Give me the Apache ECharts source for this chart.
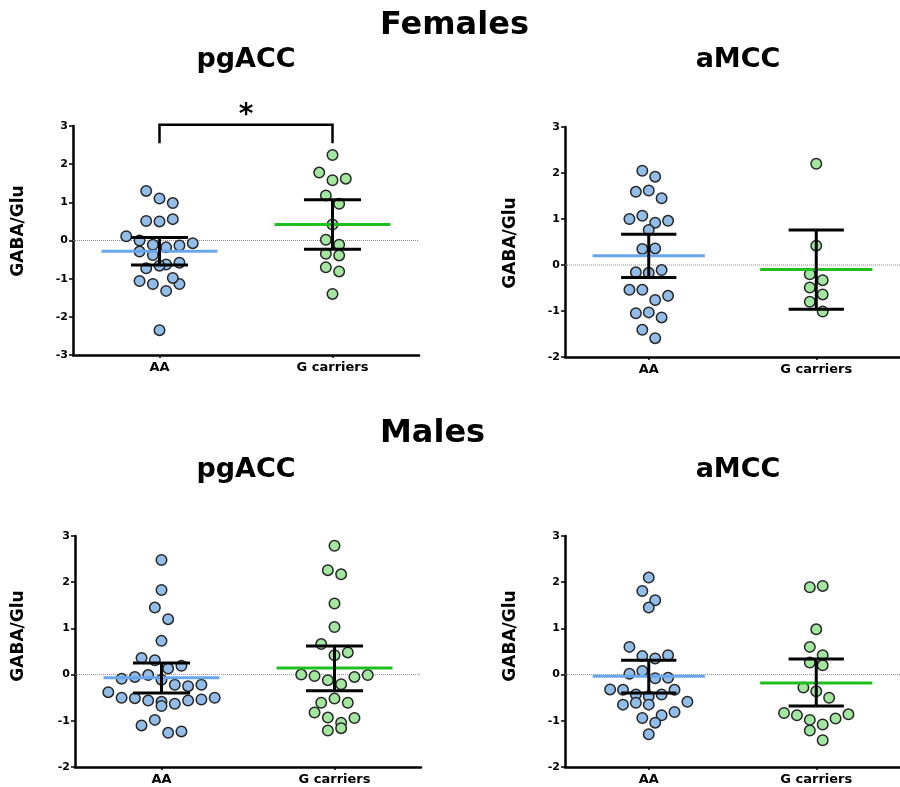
<!DOCTYPE html>
<html>
<head>
<meta charset="utf-8">
<title>GABA/Glu by genotype</title>
<script src="https://cdn.jsdelivr.net/npm/echarts@6/dist/echarts.min.js"></script>
<style>
  html, body { margin: 0; padding: 0; background: #fff; }
  #chart { width: 900px; height: 787px; }
</style>
</head>
<body>
<div id="chart"></div>
<script>
// Genotype groups on the x axis
const categories = ['AA', 'G carriers'];

// Females, pgACC
const femPgAA = [1.30, 1.10, 0.98, 0.51, 0.50, 0.56, 0.11, 0.00, -0.11, -0.18, -0.29, -0.13, -0.07,
  -0.38, -0.63, -0.73, -0.66, -0.58, -1.06, -1.14, -1.32, -1.14, -0.98, -2.35];
const femPgG = [2.24, 1.78, 1.58, 1.62, 1.18, 0.96, 0.42, 0.02, -0.11, -0.35, -0.39, -0.70, -0.81, -1.40];
const femPgMean = [-0.28, 0.42];
const femPgLow = [-0.64, -0.23];
const femPgHigh = [0.08, 1.07];

// Females, aMCC
const femMcAA = [2.05, 1.92, 1.59, 1.62, 1.45, 1.00, 1.07, 0.92, 0.96, 0.76, 0.35, 0.36, -0.16, -0.17,
  -0.11, -0.54, -0.54, -0.76, -0.67, -1.05, -1.03, -1.14, -1.41, -1.59];
const femMcG = [2.20, 0.42, -0.20, -0.33, -0.49, -0.64, -0.80, -1.01];
const femMcMean = [0.20, -0.10];
const femMcLow = [-0.27, -0.96];
const femMcHigh = [0.67, 0.76];

// Males, pgACC
const malPgAA = [2.48, 1.83, 1.45, 1.20, 0.73, 0.36, 0.31, 0.13, 0.19, -0.09, -0.05, -0.01, -0.11,
  -0.22, -0.25, -0.22, -0.38, -0.50, -0.51, -0.56, -0.59, -0.68, -0.63, -0.56, -0.54, -0.50,
  -1.10, -0.98, -1.26, -1.23];
const malPgG = [2.79, 2.26, 2.17, 1.54, 1.03, 0.66, 0.42, 0.48, 0.00, -0.03, -0.12, -0.21, -0.05,
  -0.01, -0.61, -0.52, -0.61, -0.82, -0.93, -1.04, -0.94, -1.21, -1.16];
const malPgMean = [-0.07, 0.145];
const malPgLow = [-0.40, -0.35];
const malPgHigh = [0.25, 0.62];

// Males, aMCC
const malMcAA = [2.10, 1.81, 1.61, 1.45, 0.60, 0.40, 0.35, 0.42, 0.02, 0.08, -0.08, -0.07, -0.32,
  -0.33, -0.43, -0.47, -0.43, -0.33, -0.65, -0.61, -0.59, -0.65, -0.88, -0.81, -0.94, -1.04, -1.29];
const malMcG = [1.89, 1.92, 0.98, 0.60, 0.42, 0.26, 0.20, -0.28, -0.36, -0.50, -0.83, -0.88, -0.98,
  -1.08, -1.21, -0.95, -0.86, -1.42];
const malMcMean = [-0.036, -0.18];
const malMcLow = [-0.40, -0.68];
const malMcHigh = [0.31, 0.34];

// Axis tick labels
const yTickLabels = ['-3', '-2', '-1', '0', '1', '2', '3'];

const FONT = 'DejaVu Sans';
const BLUE_DOT = '#92bde9';
const GREEN_DOT = '#a2e6a0';
const BLUE_MEAN = '#6aa6ec';
const GREEN_MEAN = '#1fbf1f';

// Panel layout
const panels = [
  { rect: { left: 73, top: 126, width: 346, height: 229 }, yMin: -3, yMax: 3,
    aa: femPgAA, g: femPgG, mean: femPgMean, low: femPgLow, high: femPgHigh,
    nameX: 19, nameY: 231, bracket: true },
  { rect: { left: 565, top: 127, width: 346, height: 230 }, yMin: -2, yMax: 3,
    aa: femMcAA, g: femMcG, mean: femMcMean, low: femMcLow, high: femMcHigh,
    nameX: 511, nameY: 243 },
  { rect: { left: 75, top: 536, width: 346, height: 231 }, yMin: -2, yMax: 3,
    aa: malPgAA, g: malPgG, mean: malPgMean, low: malPgLow, high: malPgHigh,
    nameX: 19, nameY: 636 },
  { rect: { left: 565, top: 536, width: 346, height: 231 }, yMin: -2, yMax: 3,
    aa: malMcAA, g: malMcG, mean: malMcMean, low: malMcLow, high: malMcHigh,
    nameX: 511, nameY: 636 }
];

// Scatter-dot layout: values are grouped, from the top down, into rows no
// taller than one dot spacing; each row is spread symmetrically about the
// column centre with one dot spacing between neighbours.
function rowOffsets(vals, pxX, pxY, d) {
  const order = vals.map((v, i) => i).sort((a, b) => vals[b] - vals[a]);
  const rowSpan = d / pxY;
  const rows = [];
  let cur = null;
  for (const i of order) {
    if (!cur || cur.start - vals[i] >= rowSpan) {
      cur = { start: vals[i], members: [] };
      rows.push(cur);
    }
    cur.members.push(i);
  }
  const off = new Array(vals.length);
  rows.forEach(r => {
    const m = r.members.slice().sort((a, b) => a - b);
    const n = m.length;
    m.forEach((idx, j) => { off[idx] = (j - (n - 1) / 2) * d / pxX; });
  });
  return off;
}

const grids = [], xAxes = [], yAxes = [], series = [], graphics = [];

panels.forEach((p, i) => {
  grids.push(Object.assign({ containLabel: false }, p.rect));
  const pxX = p.rect.width / 2;
  const pxY = p.rect.height / (p.yMax - p.yMin);

  // visible category axis
  xAxes.push({
    type: 'category', gridIndex: i, data: categories,
    axisLine: { show: true, onZero: false, lineStyle: { color: '#000', width: 2.5 } },
    axisTick: { show: true, alignWithLabel: true, length: 3, lineStyle: { color: '#000', width: 1.5 } },
    axisLabel: { color: '#000', fontFamily: FONT, fontWeight: 'bold', fontSize: 13, margin: 6 },
    splitLine: { show: false }
  });
  // hidden numeric axis carrying the dot positions
  xAxes.push({ type: 'value', gridIndex: i, min: -0.5, max: 1.5, show: false,
    axisLine: { onZero: false } });

  yAxes.push({
    type: 'value', gridIndex: i, min: p.yMin, max: p.yMax, interval: 1,
    axisLine: { show: true, onZero: false, lineStyle: { color: '#000', width: 2.5 } },
    axisTick: { show: true, length: 4, lineStyle: { color: '#000', width: 1.5 } },
    axisLabel: {
      color: '#000', fontFamily: FONT, fontWeight: 'bold', fontSize: 11, margin: 5,
      formatter: v => yTickLabels[Math.round(v) + 3]
    },
    splitLine: { show: false }
  });

  const xi = 2 * i + 1;

  // dotted zero reference line
  series.push({
    type: 'line', xAxisIndex: xi, yAxisIndex: i, data: [[-0.5, 0], [1.5, 0]],
    symbol: 'none', silent: true, z: 1,
    lineStyle: { color: '#8c8c8c', width: 1, type: 'dotted' }
  });

  [p.aa, p.g].forEach((vals, c) => {
    const off = rowOffsets(vals, pxX, pxY, 13.3);
    series.push({
      type: 'scatter', xAxisIndex: xi, yAxisIndex: i, z: 2,
      symbol: 'circle', symbolSize: 10.5,
      itemStyle: { color: c === 0 ? BLUE_DOT : GREEN_DOT, borderColor: '#262626', borderWidth: 1.5, opacity: 1 },
      data: vals.map((v, j) => [c + off[j], v])
    });
  });

  // mean line with 95% CI error bars
  series.push({
    type: 'custom', xAxisIndex: xi, yAxisIndex: i, z: 3, silent: true,
    data: [0, 1].map(c => [c, p.mean[c], p.low[c], p.high[c]]),
    renderItem: (params, api) => {
      const x = api.value(0), m = api.value(1), lo = api.value(2), hi = api.value(3);
      const mL = api.coord([x - 0.335, m]), mR = api.coord([x + 0.335, m]);
      const top = api.coord([x, hi]), bot = api.coord([x, lo]);
      const cL = api.coord([x - 0.165, hi]), cR = api.coord([x + 0.165, hi]);
      const bL = api.coord([x - 0.165, lo]), bR = api.coord([x + 0.165, lo]);
      const black = { stroke: '#000', lineWidth: 3, fill: null };
      return {
        type: 'group',
        children: [
          { type: 'line', shape: { x1: mL[0], y1: mL[1], x2: mR[0], y2: mR[1] },
            style: { stroke: x === 0 ? BLUE_MEAN : GREEN_MEAN, lineWidth: 3 } },
          { type: 'line', shape: { x1: top[0], y1: top[1], x2: bot[0], y2: bot[1] }, style: black },
          { type: 'line', shape: { x1: cL[0], y1: cL[1], x2: cR[0], y2: cR[1] }, style: black },
          { type: 'line', shape: { x1: bL[0], y1: bL[1], x2: bR[0], y2: bR[1] }, style: black }
        ]
      };
    }
  });

  // significance bracket between the two groups
  if (p.bracket) {
    series.push({
      type: 'custom', xAxisIndex: xi, yAxisIndex: i, z: 3, silent: true, clip: false,
      data: [[0, 1, 3.03, 2.55]],
      renderItem: (params, api) => {
        const a = api.value(0), b = api.value(1), top = api.value(2), foot = api.value(3);
        const p1 = api.coord([a, foot]), p2 = api.coord([a, top]);
        const p3 = api.coord([b, top]), p4 = api.coord([b, foot]);
        const mid = api.coord([(a + b) / 2, top]);
        return {
          type: 'group',
          children: [
            { type: 'polyline', shape: { points: [p1, p2, p3, p4] },
              style: { stroke: '#000', lineWidth: 2.5, fill: null } },
            { type: 'text', x: mid[0], y: mid[1] - 9,
              style: { text: '*', fill: '#000', font: 'bold 28px "DejaVu Sans"',
                align: 'center', verticalAlign: 'middle' } }
          ]
        };
      }
    });
  }

  // y-axis title
  graphics.push({
    type: 'text', x: p.nameX, y: p.nameY, rotation: Math.PI / 2,
    style: { text: 'GABA/Glu', fill: '#000', font: 'bold 17px "DejaVu Sans"',
      align: 'center', verticalAlign: 'middle' }
  });
});

// Headings
const headings = [
  { text: 'Females', x: 380, y: 26, size: 32, align: 'left' },
  { text: 'pgACC', x: 246, y: 60, size: 27, align: 'center' },
  { text: 'aMCC', x: 738, y: 60, size: 27, align: 'center' },
  { text: 'Males', x: 380, y: 434, size: 32, align: 'left' },
  { text: 'pgACC', x: 246, y: 470, size: 27, align: 'center' },
  { text: 'aMCC', x: 738, y: 470, size: 27, align: 'center' }
];
headings.forEach(h => graphics.push({
  type: 'text', x: h.x, y: h.y,
  style: { text: h.text, fill: '#000', font: 'bold ' + h.size + 'px "DejaVu Sans"',
    align: h.align, verticalAlign: 'middle' }
}));

const chart = echarts.init(document.getElementById('chart'), null, { renderer: 'canvas' });
chart.setOption({
  animation: false,
  backgroundColor: '#fff',
  grid: grids,
  xAxis: xAxes,
  yAxis: yAxes,
  series: series,
  graphic: graphics
});
</script>
</body>
</html>
